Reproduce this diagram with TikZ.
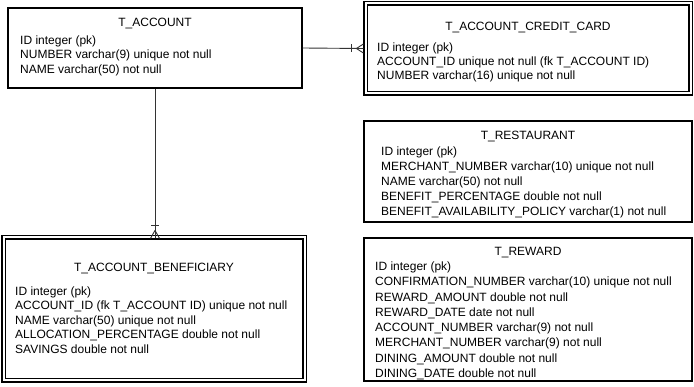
\documentclass[tikz,border=0pt]{standalone}
\usepackage{fontspec}
\setmainfont{Liberation Sans}
\usetikzlibrary{calc}
\begin{document}
\begin{tikzpicture}[x=1pt,y=-1pt,
  tbl/.style={draw=black, line width=1.2pt, inner sep=0pt, fill=white},
  dbl/.style={tbl, double=white, double distance=2pt},
  ttl/.style={inner sep=0pt, anchor=base, font=\fontsize{12}{14}\selectfont},
  row/.style={inner sep=0pt, anchor=base west, font=\fontsize{12}{14}\selectfont},
  link/.style={draw=black!80, line width=0.9pt}]
\useasboundingbox (0,0) rectangle (694,387);

% table boxes
\node[tbl, minimum width=294pt, minimum height=80pt] (acc) at (155,48) {};
\node[dbl, minimum width=325pt, minimum height=90pt] (cc) at (528,48.5) {};
\node[tbl, minimum width=328pt, minimum height=101pt] (rest) at (528,171.5) {};
\node[tbl, minimum width=328pt, minimum height=143pt] (rew) at (528,309.5) {};
\node[dbl, minimum width=301pt, minimum height=143pt] (ben) at (154,309) {};

% titles
\node[ttl] (acc-t) at (155,26.5) {T\_ACCOUNT};
\node[ttl] (cc-t) at (528,31) {T\_ACCOUNT\_CREDIT\_CARD};
\node[ttl] (rest-t) at (528,140) {T\_RESTAURANT};
\node[ttl] (rew-t) at (528,255.5) {T\_REWARD};
\node[ttl] (ben-t) at (154,271.5) {T\_ACCOUNT\_BENEFICIARY};

% columns
\foreach \t [count=\i] in {ID integer (pk), NUMBER varchar(9) unique not null, NAME varchar(50) not null}
  \node[row] (acc-\i) at (20,{44.5+(\i-1)*14.5}) {\t};
\foreach \t [count=\i] in {ID integer (pk), ACCOUNT\_ID unique not null (fk T\_ACCOUNT ID), NUMBER varchar(16) unique not null}
  \node[row] (cc-\i) at (377,{51.5+(\i-1)*14}) {\t};
\foreach \t [count=\i] in {ID integer (pk), MERCHANT\_NUMBER varchar(10) unique not null, NAME varchar(50) not null, BENEFIT\_PERCENTAGE double not null, BENEFIT\_AVAILABILITY\_POLICY varchar(1) not null}
  \node[row] (rest-\i) at (381,{155.5+(\i-1)*15}) {\t};
\foreach \t [count=\i] in {ID integer (pk), CONFIRMATION\_NUMBER varchar(10) unique not null, REWARD\_AMOUNT double not null, REWARD\_DATE date not null, ACCOUNT\_NUMBER varchar(9) not null, MERCHANT\_NUMBER varchar(9) not null, DINING\_AMOUNT double not null, DINING\_DATE double not null}
  \node[row] (rew-\i) at (375,{270.5+(\i-1)*15.3}) {\t};
\foreach \t [count=\i] in {ID integer (pk), ACCOUNT\_ID (fk T\_ACCOUNT ID) unique not null, NAME varchar(50) unique not null, ALLOCATION\_PERCENTAGE double not null, SAVINGS double not null}
  \node[row] (ben-\i) at (15,{295.5+(\i-1)*14.5}) {\t};

% one-to-many links with bar and crow's foot
\coordinate (ccend) at ([xshift=-1.5pt]cc.west);
\draw[link] (acc.east) -- (ccend);
\draw[link] ($(ccend)+(-12,-4)$) -- ($(ccend)+(-12,4)$);
\draw[link] ($(ccend)+(-7,0)$) -- ($(ccend)+(0,-4.5)$);
\draw[link] ($(ccend)+(-7,0)$) -- ($(ccend)+(0,4.5)$);

\coordinate (benend) at ([yshift=-1.5pt]ben.north -| acc.south);
\draw[link] (acc.south) -- (benend);
\draw[link] ($(benend)+(-4,-13)$) -- ($(benend)+(4,-13)$);
\draw[link] ($(benend)+(0,-8)$) -- ($(benend)+(-4.5,0)$);
\draw[link] ($(benend)+(0,-8)$) -- ($(benend)+(4.5,0)$);
\end{tikzpicture}
\end{document}
